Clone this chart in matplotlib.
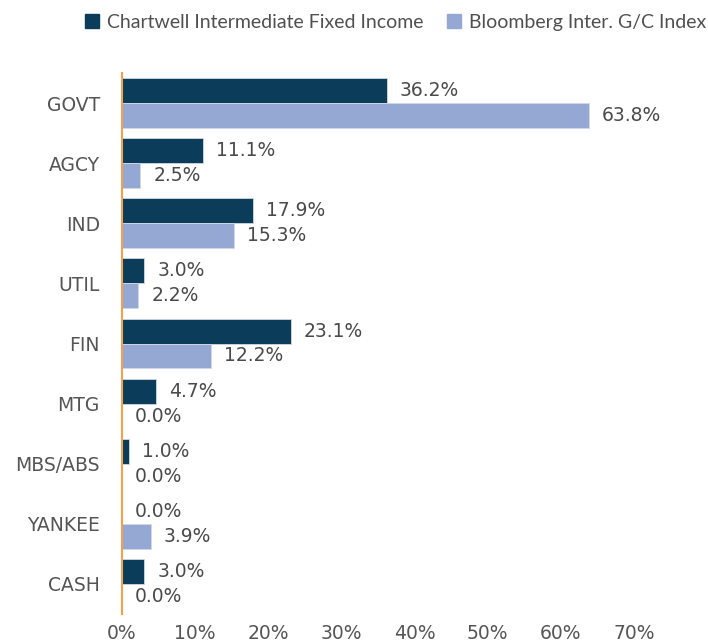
import matplotlib.pyplot as plt
import numpy as np
from matplotlib.patches import Patch

categorias = ['GOVT', 'AGCY', 'IND', 'UTIL', 'FIN', 'MTG', 'MBS/ABS', 'YANKEE', 'CASH']
chartwell = [36.2, 11.1, 17.9, 3.0, 23.1, 4.7, 1.0, 0.0, 3.0]
bloomberg = [63.8, 2.5, 15.3, 2.2, 12.2, 0.0, 0.0, 3.9, 0.0]
ticks_x = [0, 10, 20, 30, 40, 50, 60, 70]

cor_escura = '#0b3d5b'
cor_clara = '#95a8d4'
cor_texto = '#555555'
tam = 13.5

fig = plt.figure(figsize=(7.08, 6.44), dpi=100)
ax = fig.add_axes([0.1723, 0.0466, 0.7232, 0.84])

y = np.arange(len(categorias))
h = 0.415
ax.barh(y - h / 2, chartwell, height=h, color=cor_escura, edgecolor='#d0d8e4', linewidth=0.6)
ax.barh(y + h / 2, bloomberg, height=h, color=cor_clara, edgecolor='#d0d8e4', linewidth=0.6)

for i in range(len(categorias)):
    ax.text(chartwell[i] + 1.8, y[i] - h / 2, f'{chartwell[i]:.1f}%', va='center', ha='left',
            fontsize=tam, color='#4a4a4a')
    ax.text(bloomberg[i] + 1.8, y[i] + h / 2, f'{bloomberg[i]:.1f}%', va='center', ha='left',
            fontsize=tam, color='#4a4a4a')

ax.set_xlim(0, 70)
ax.set_ylim(len(categorias) - 0.5, -0.5)
ax.set_yticks(y)
ax.set_yticklabels(categorias, fontsize=tam, color=cor_texto)
ax.set_xticks(ticks_x)
ax.set_xticklabels([f'{t}%' for t in ticks_x], fontsize=tam, color=cor_texto)
ax.tick_params(axis='both', length=0)
ax.tick_params(axis='x', pad=7)
ax.tick_params(axis='y', pad=16)

for s in ['top', 'right', 'bottom']:
    ax.spines[s].set_visible(False)
ax.spines['left'].set_color('#f5a04a')
ax.spines['left'].set_linewidth(1.5)

handles = [Patch(color=cor_escura), Patch(color=cor_clara)]
fig.legend(handles, ['Chartwell Intermediate Fixed Income', 'Bloomberg Inter. G/C Index'],
           loc='upper right', bbox_to_anchor=(1.017, 1.0), ncol=2, frameon=False,
           prop={'family': 'Lato', 'size': 14}, labelcolor='#505050',
           handlelength=0.75, handleheight=0.75, handletextpad=0.4, columnspacing=1.2,
           borderaxespad=0.3)

plt.savefig('out.png', dpi=100)
